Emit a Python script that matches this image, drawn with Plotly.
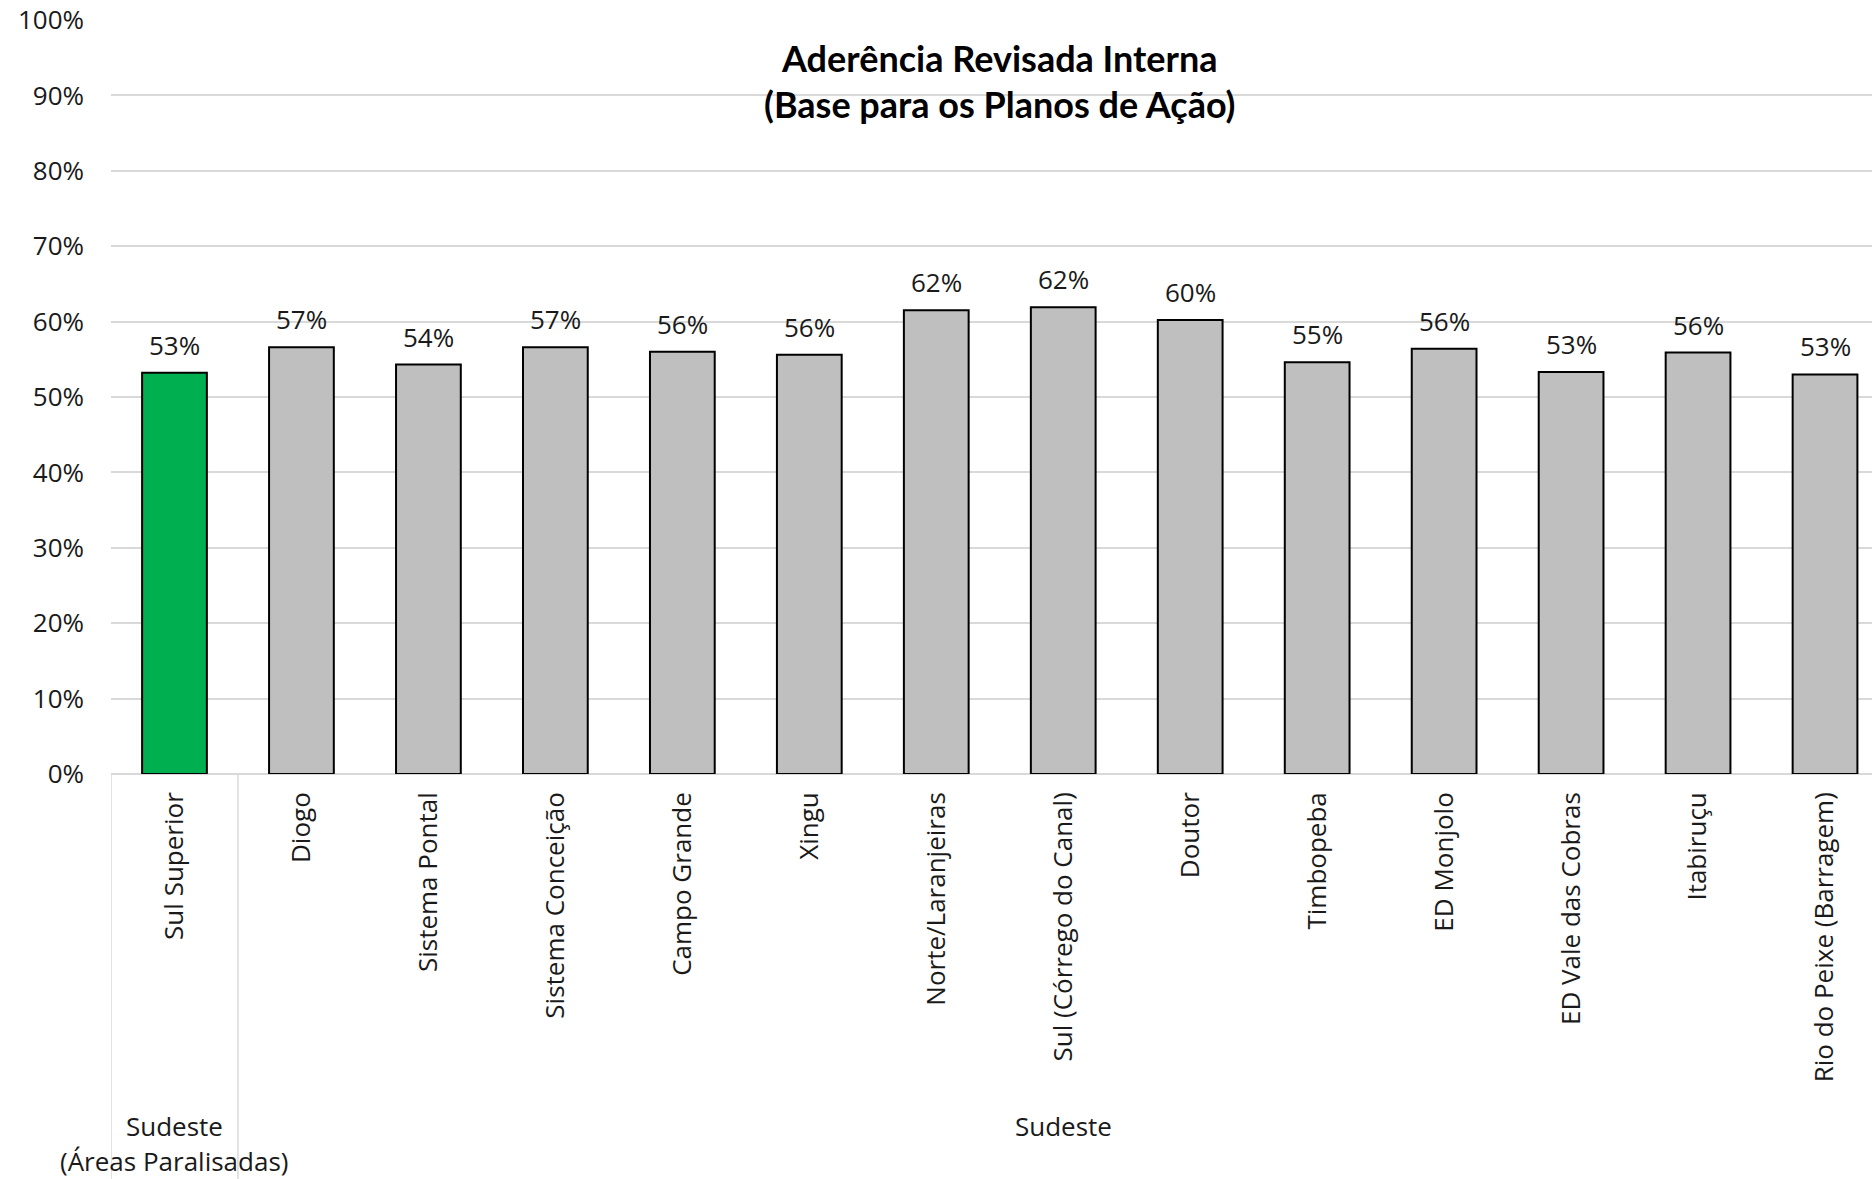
import plotly.graph_objects as go

categories = ["Sul Superior", "Diogo", "Sistema Pontal", "Sistema Conceição", "Campo Grande",
              "Xingu", "Norte/Laranjeiras", "Sul (Córrego do Canal)", "Doutor", "Timbopeba",
              "ED Monjolo", "ED Vale das Cobras", "Itabiruçu", "Rio do Peixe (Barragem)"]
values = [0.532, 0.566, 0.543, 0.566, 0.560, 0.556, 0.615, 0.619, 0.602, 0.546,
          0.564, 0.533, 0.559, 0.530]
groups = ["Sudeste<br>(Áreas Paralisadas)"] + ["Sudeste"] * 13
title_lines = ["Aderência Revisada Interna", "(Base para os Planos de Ação)"]

FONT = "Open Sans"
TFONT = "Lato"
TXT = "#1a1a1a"
FS = 26
bar_colors = ["#00B050" if g != "Sudeste" else "#BFBFBF" for g in groups]

xs = list(range(len(categories)))
fig = go.Figure()
fig.add_trace(go.Bar(
    x=xs, y=values,
    marker=dict(color=bar_colors, line=dict(color="#000000", width=2)),
    width=0.51,
))

# data labels
for xv, v in zip(xs, values):
    fig.add_annotation(x=xv, y=v, xref="x", yref="y", text=f"{v:.0%}",
                       showarrow=False, yanchor="bottom", yshift=8,
                       font=dict(family=FONT, size=FS, color=TXT))

L, T, B = 111, 20, 405
H = 1179
plot_h = H - T - B

fig.update_layout(
    width=1872, height=1179,
    margin=dict(l=L, r=0, t=T, b=B),
    paper_bgcolor="white", plot_bgcolor="white",
    showlegend=False,
    font=dict(family=FONT, color=TXT),
)
fig.update_xaxes(
    range=[-0.5, 13.37],
    tickmode="array", tickvals=xs, ticktext=categories,
    tickangle=-90, tickfont=dict(family=FONT, size=FS, color=TXT),
    ticklabelstandoff=12,
    showgrid=False, showline=False, zeroline=False, ticks="",
)
fig.update_yaxes(
    range=[0, 1], dtick=0.1, tickformat=".0%",
    tickfont=dict(family=FONT, size=FS, color=TXT),
    ticklabelstandoff=26,
    showgrid=True, gridcolor="#D9D9D9", gridwidth=1.5,
    zeroline=True, zerolinecolor="#D9D9D9", zerolinewidth=1.5,
    showline=False, ticks="",
)

# group separators below the axis
bottom = -(B / plot_h)
for xv in [-0.5, 0.5]:
    fig.add_shape(type="line", xref="x", yref="paper", x0=xv, x1=xv, y0=0, y1=bottom,
                  line=dict(color="#D9D9D9", width=1.5))

# group labels
first_group_x = 0
rest_center = (1 + len(categories) - 1) / 2
fig.add_annotation(x=first_group_x, xref="x", y=(774 - 1126) / plot_h, yref="paper",
                   text="Sudeste", showarrow=False, yanchor="middle",
                   font=dict(family=FONT, size=FS, color=TXT))
fig.add_annotation(x=first_group_x, xref="x", y=(774 - 1161) / plot_h, yref="paper",
                   text="(Áreas Paralisadas)", showarrow=False, yanchor="middle",
                   borderpad=0,
                   font=dict(family=FONT, size=FS, color=TXT))
fig.add_annotation(x=rest_center, xref="x", y=(774 - 1126) / plot_h, yref="paper",
                   text="Sudeste", showarrow=False, yanchor="middle",
                   font=dict(family=FONT, size=FS, color=TXT))

# title
for txt, ypix in zip(title_lines, [58, 104]):
    fig.add_annotation(x=6.5, xref="x", y=(774 - ypix) / plot_h, yref="paper",
                       text="<b>" + txt + "</b>", showarrow=False, yanchor="middle",
                       font=dict(family=TFONT, size=36, color="#000000"))

fig.write_html("out.html")
